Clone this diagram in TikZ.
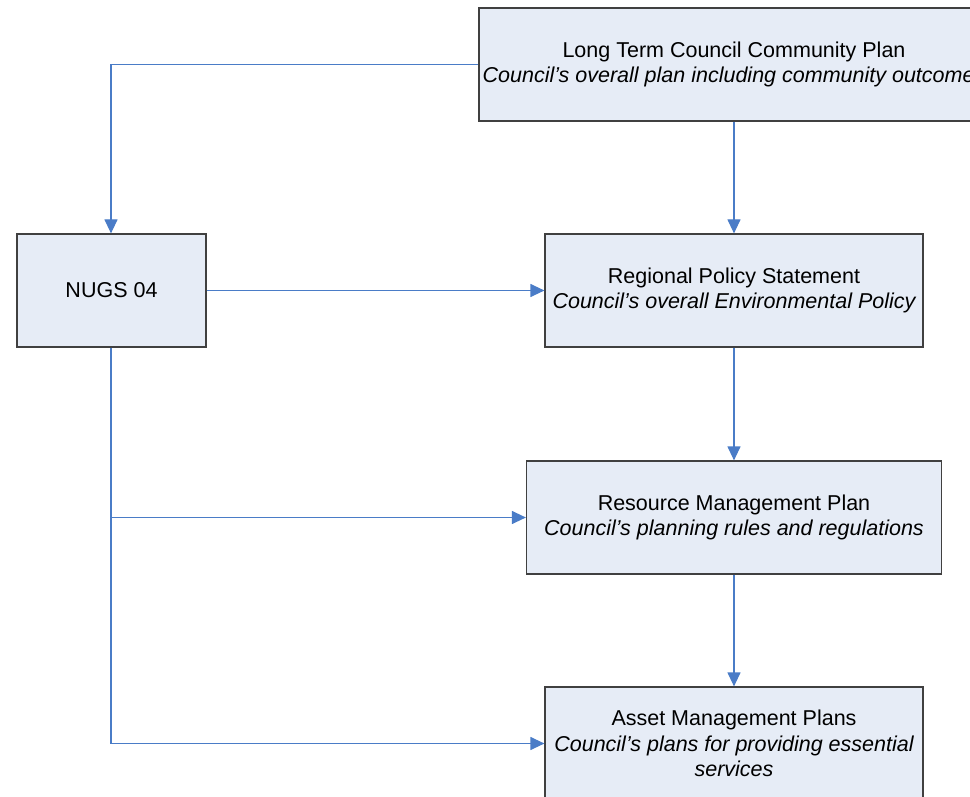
\documentclass[tikz,border=0pt]{standalone}
\usepackage{fontspec}
\setmainfont{Liberation Sans}
\usetikzlibrary{arrows.meta}
\definecolor{boxfill}{HTML}{E6ECF6}
\definecolor{boxline}{HTML}{404040}
\definecolor{conn}{HTML}{4A7CC7}
\tikzset{
  box/.style={draw=boxline, fill=boxfill, line width=1.2pt, align=center,
    font=\fontsize{21.5}{25.5}\selectfont, inner sep=0pt},
  conn/.style={draw=conn, line width=1.2pt, -{Triangle[length=14pt,width=13pt]}},
  plain/.style={draw=conn, line width=1.2pt}
}
\begin{document}
\begin{tikzpicture}[x=1pt,y=-1pt]
\useasboundingbox (0,0) rectangle (970,797);
\clip (0,0) rectangle (970,797);
\node[box, minimum width=510pt, minimum height=113pt] (ltccp) at (734,64.5)
  {Long Term Council Community Plan\\ \itshape Council’s overall plan including community outcomes};
\node[box, minimum width=189pt, minimum height=113pt] (nugs) at (111.5,290.5) {NUGS 04};
\node[box, minimum width=378pt, minimum height=113pt] (rps) at (734,290.5)
  {Regional Policy Statement\\ \itshape Council’s overall Environmental Policy};
\node[box, minimum width=415pt, minimum height=113pt] (rmp) at (734,517.5)
  {Resource Management Plan\\ \itshape Council’s planning rules and regulations};
\node[box, minimum width=378pt, minimum height=113pt] (amp) at (734,743.5)
  {Asset Management Plans\\ \itshape Council’s plans for providing essential\\ \itshape services};
\coordinate (nugsx) at (111,0);
\draw[conn] (ltccp.west) -| (nugsx |- nugs.north);
\draw[conn] (ltccp.south) -- (rps.north);
\draw[conn] (nugs.east) -- (rps.west);
\draw[conn] (rps.south) -- (rmp.north);
\draw[conn] (rmp.south) -- (amp.north);
\draw[conn] (nugsx |- nugs.south) |- (amp.west);
\draw[conn] (nugsx |- rmp.west) -- (rmp.west);
\end{tikzpicture}
\end{document}
